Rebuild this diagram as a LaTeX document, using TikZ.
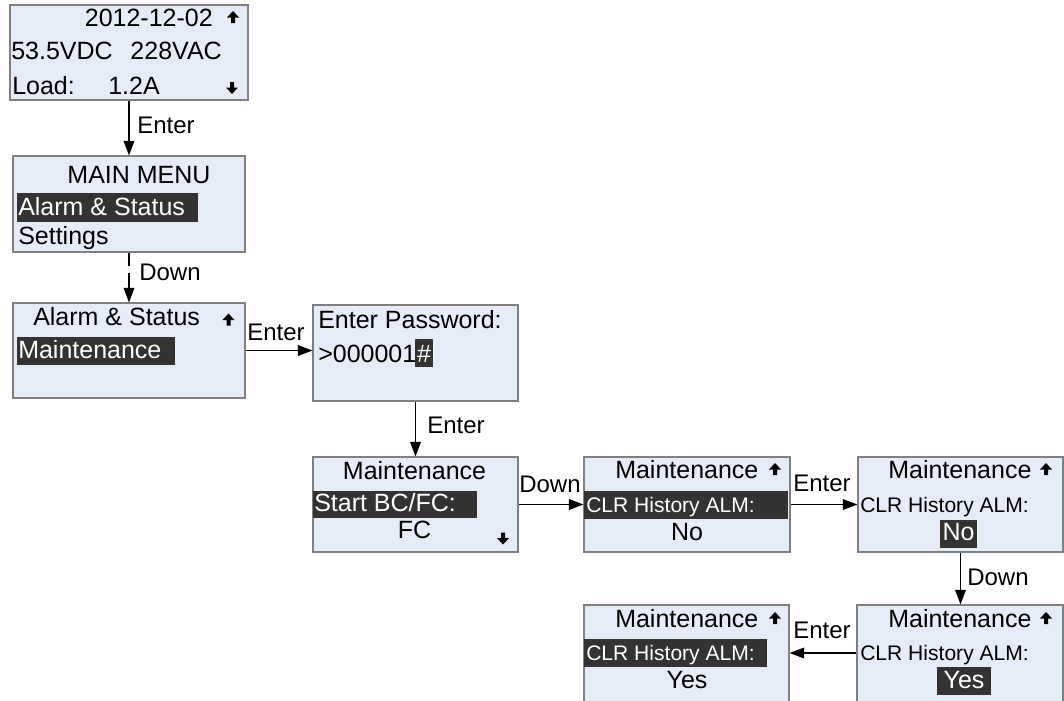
\documentclass[tikz,border=0pt]{standalone}
\usepackage{fontspec}
\setmainfont{Liberation Sans}
\usetikzlibrary{arrows.meta,fit}
\definecolor{boxfill}{RGB}{230,236,247}
\definecolor{boxline}{RGB}{128,128,128}
\definecolor{hl}{RGB}{51,51,51}
\tikzset{
  lcdbox/.style={draw=boxline, line width=0.8pt, fill=boxfill, inner sep=0pt, rectangle},
  hlbox/.style={fill=hl},
  txt/.style={inner sep=0pt, font=\fontsize{18.75}{20}\selectfont},
  stxt/.style={inner sep=0pt, font=\fontsize{15.8}{17}\selectfont},
  wtxt/.style={txt, text=white},
  swtxt/.style={stxt, text=white},
  lbl/.style={inner sep=0pt, font=\fontsize{18}{20}\selectfont, anchor=base west},
  flow/.style={line width=1.1pt, -{Triangle[length=11pt,width=8pt]}},
  uparrow/.pic={\fill (-6,0.5) -- (0,-6) -- (6,0.5) -- (2,0.5) -- (2,6) -- (-2,6) -- (-2,0.5) -- cycle;},
  downarrow/.pic={\fill (-6,-0.5) -- (0,6) -- (6,-0.5) -- (2,-0.5) -- (2,-6) -- (-2,-6) -- (-2,-0.5) -- cycle;}
}
\begin{document}
\begin{tikzpicture}[x=0.75pt,y=-0.75pt]
\useasboundingbox (0,0) rectangle (1064,700);
\clip (0,0) rectangle (1064,700);
% boxes
\node[lcdbox, fit={(10,5) (248,100)}] (b1) {};
\node[lcdbox, fit={(13,156) (245,252)}] (b2) {};
\node[lcdbox, fit={(13,303) (245,398)}] (b3) {};
\node[lcdbox, fit={(313,305) (518,401)}] (b4) {};
\node[lcdbox, fit={(313,457) (518,552)}] (b5) {};
\node[lcdbox, fit={(584,457) (790,552)}] (b6) {};
\node[lcdbox, fit={(858,457) (1063,552)}] (b7) {};
\node[lcdbox, fit={(857,605) (1063,702)}] (b8) {};
\node[lcdbox, fit={(584,605) (789,702)}] (b9) {};
% highlights
\fill[hlbox] (17,193) rectangle (198,222);
\fill[hlbox] (17,337) rectangle (175,365);
\fill[hlbox] (415,339) rectangle (433,367);
\fill[hlbox] (313,491) rectangle (477,518);
\fill[hlbox] (584,491) rectangle (788,519);
\fill[hlbox] (940,520) rectangle (977,548);
\fill[hlbox] (937,667) rectangle (991,695);
\fill[hlbox] (584,639) rectangle (767,667);
% box 1
\node[txt, anchor=base east] (t1a) at (213,26) {2012-12-02};
\node[txt, anchor=base west] (t1b) at (11,59) {53.5VDC};
\node[txt, anchor=base east] (t1c) at (222,59) {228VAC};
\node[txt, anchor=base west] (t1d) at (12,94) {Load:};
\node[txt, anchor=base west] (t1e) at (108,94) {1.2A};
\pic at (233,17) {uparrow};
\pic at (232,88) {downarrow};
% box 2
\node[txt, anchor=base] (t2a) at (139,183) {MAIN MENU};
\node[wtxt, anchor=base west] (t2b) at (18,215) {Alarm \& Status};
\node[txt, anchor=base west] (t2c) at (18,244) {Settings};
% box 3
\node[txt, anchor=base west] (t3a) at (33,325) {Alarm \& Status};
\node[wtxt, anchor=base west] (t3b) at (18,358) {Maintenance};
\pic at (228.5,319.5) {uparrow};
% box 4
\node[txt, anchor=base west] (t4a) at (318,328) {Enter Password:};
\node[txt, anchor=base west] (t4b) at (318,362) {>000001};
\node[wtxt, anchor=base] (t4c) at (424,362) {\#};
% box 5
\node[txt, anchor=base] (t5a) at (414.5,479) {Maintenance};
\node[wtxt, anchor=base west] (t5b) at (314,511) {Start BC/FC:};
\node[txt, anchor=base] (t5c) at (414.5,538) {FC};
\pic at (503,538.5) {downarrow};
% box 6
\node[txt, anchor=base west] (t6a) at (615,478) {Maintenance};
\node[swtxt, anchor=base west] (t6b) at (586,512) {CLR History ALM:};
\node[txt, anchor=base] (t6c) at (687,540) {No};
\pic at (775,469) {uparrow};
% box 7
\node[txt, anchor=base west] (t7a) at (888,478) {Maintenance};
\node[stxt, anchor=base west] (t7b) at (860,512) {CLR History ALM:};
\node[wtxt, anchor=base] (t7c) at (958.5,540) {No};
\pic at (1046,469) {uparrow};
% box 8
\node[txt, anchor=base west] (t8a) at (888,627) {Maintenance};
\node[stxt, anchor=base west] (t8b) at (860,660) {CLR History ALM:};
\node[wtxt, anchor=base] (t8c) at (964,688) {Yes};
\pic at (1046,618) {uparrow};
% box 9
\node[txt, anchor=base west] (t9a) at (615,627) {Maintenance};
\node[swtxt, anchor=base west] (t9b) at (586,660) {CLR History ALM:};
\node[txt, anchor=base] (t9c) at (687,688) {Yes};
\pic at (775,618) {uparrow};
% connectors
\draw[flow] (b1.south) -- (b2.north);
\draw[flow, dash pattern=on 9.75pt off 5.25pt on 100pt off 0pt] (b2.south) -- (b3.north);
\draw[flow] (b3.east) -- (b3.east -| b4.west);
\draw[flow] (b4.south) -- (b5.north);
\draw[flow] (b5.east) -- (b6.west);
\draw[flow] (b6.east) -- (b7.west);
\draw[flow] (b7.south) -- (b7.south |- b8.north);
\draw[flow] (b8.west |- 0,653) -- (b9.east |- 0,653);
% labels
\node[lbl] (l1) at (137,133) {Enter};
\node[lbl] (l2) at (139,280) {Down};
\node[lbl] (l3) at (247,340) {Enter};
\node[lbl] (l4) at (427,433) {Enter};
\node[lbl] (l5) at (519,492) {Down};
\node[lbl] (l6) at (793,491) {Enter};
\node[lbl] (l7) at (967,585) {Down};
\node[lbl] (l8) at (793,638) {Enter};
\end{tikzpicture}
\end{document}
